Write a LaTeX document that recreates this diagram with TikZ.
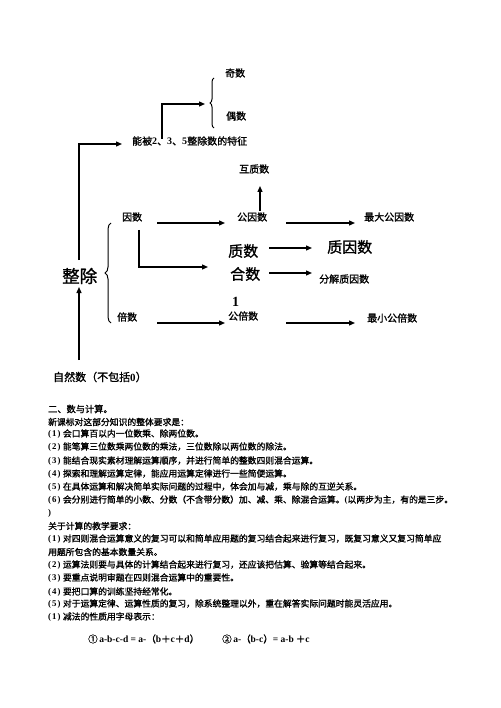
\documentclass[tikz,border=0pt]{standalone}
\usepackage{fontspec}
\setmainfont{Noto Sans CJK SC}[RawFeature={embolden=1.2}]
\newfontfamily\latfont{Liberation Serif}
\newcommand\latb[1]{{\latfont\bfseries #1}}
\newcommand\itm[1]{\latb{(}\kern1pt\latb{#1}\kern1pt\latb{)}\kern2.5pt}
\usetikzlibrary{arrows.meta,decorations.pathreplacing}
\begin{document}
\begin{tikzpicture}[x=1pt,y=-1pt,
  lbl/.style={anchor=west,inner sep=0pt,font=\fontsize{10}{12}\selectfont},
  big/.style={anchor=west,inner sep=0pt,font=\fontsize{15}{18}\selectfont},
  body/.style={anchor=west,inner sep=0pt,font=\fontsize{8.8}{10}\selectfont},
  arr/.style={line width=1.3pt,-{Triangle[length=6pt,width=5pt]}},
  br/.style={line width=1pt,decorate,decoration={brace,amplitude=#1}},
]
\useasboundingbox[fill=white] (0,0) rectangle (500,708);

% ---- diagram labels ----
\node[lbl] (jishu) at (225,73) {奇数};
\node[lbl] (oushu) at (226,116) {偶数};
\node[lbl] (tezheng) at (132,141) {能被\latb{2}、\latb{3}、\latb{5}整除数的特征};
\node[lbl] (huzhi) at (239,169) {互质数};
\node[lbl] (yinshu) at (122,217) {因数};
\node[lbl] (gongyin) at (237,217) {公因数};
\node[lbl] (zuida) at (364,217) {最大公因数};
\node[big] (zhishu) at (228,251) {质数};
\node[big] (zhiyin) at (327,247) {质因数};
\node[big] (heshu) at (230,274) {合数};
\node[lbl] (fenjie) at (319,279) {分解质因数};
\node[anchor=west,inner sep=0pt,font=\fontsize{14}{16}\selectfont] (one) at (232,302) {\latb{1}};
\node[lbl] (gongbei) at (228,316) {公倍数};
\node[lbl] (beishu) at (117,317) {倍数};
\node[lbl] (zuixiao) at (367,318) {最小公倍数};
\node[anchor=west,inner sep=0pt,font=\fontsize{17.5}{20}\selectfont] (zhengchu) at (62,276) {整除};
\node[anchor=west,inner sep=0pt,font=\fontsize{11}{13}\selectfont] (ziran) at (53,377) {自然数（不包括\latb{0}）};

% ---- connector points ----
\coordinate (a1) at (79,260); \coordinate (a1m) at (79,144); \coordinate (a1e) at (122,144);
\coordinate (a2) at (162,139); \coordinate (a2m) at (162,104); \coordinate (a2e) at (205,104);
\coordinate (a3) at (157,223); \coordinate (a3e) at (225,223);
\coordinate (a4) at (260,211); \coordinate (a4e) at (260,186);
\coordinate (a5) at (286,223); \coordinate (a5e) at (355,223);
\coordinate (a6) at (269,248); \coordinate (a6e) at (312,248);
\coordinate (a7) at (139,230); \coordinate (a7m) at (139,267); \coordinate (a7e) at (208,267);
\coordinate (a8) at (269,273); \coordinate (a8e) at (312,273);
\coordinate (a9) at (157,323); \coordinate (a9e) at (225,323);
\coordinate (a10) at (286,323); \coordinate (a10e) at (355,323);
\coordinate (a11) at (79,360); \coordinate (a11e) at (79,287);
\coordinate (b1s) at (214,128); \coordinate (b1e) at (214,78);
\coordinate (b2s) at (111,323); \coordinate (b2e) at (111,223);

\draw[arr] (a1) -- (a1m) -- (a1e);
\draw[arr] (a2) -- (a2m) -- (a2e);
\draw[arr] (a3) -- (a3e);
\draw[arr] (a4) -- (a4e);
\draw[arr] (a5) -- (a5e);
\draw[arr] (a6) -- (a6e);
\draw[arr] (a7) -- (a7m) -- (a7e);
\draw[arr] (a8) -- (a8e);
\draw[arr] (a9) -- (a9e);
\draw[arr] (a10) -- (a10e);
\draw[arr] (a11) -- (a11e);
\draw[br=4pt] (b1s) -- (b1e);
\draw[br=6pt] (b2s) -- (b2e);

% ---- text block ----
\node[body,font=\fontsize{9.2}{11}\selectfont] (t0) at (48,409) {二、数与计算。};
\node[body] (t1) at (48,422) {新课标对这部分知识的整体要求是：};
\node[body] (t2) at (48,434) {\itm{1}会口算百以内一位数乘、除两位数。};
\node[body] (t3) at (48,447) {\itm{2}能笔算三位数乘两位数的乘法，三位数除以两位数的除法。};
\node[body] (t4) at (48,461) {\itm{3}能结合现实素材理解运算顺序，并进行简单的整数四则混合运算。};
\node[body] (t5) at (48,474) {\itm{4}探索和理解运算定律，能应用运算定律进行一些简便运算。};
\node[body] (t6) at (48,487) {\itm{5}在具体运算和解决简单实际问题的过程中，体会加与减，乘与除的互逆关系。};
\node[body] (t7) at (48,500) {\itm{6}会分别进行简单的小数、分数（不含带分数）加、减、乘、除混合运算。\latb{(}以两步为主，有的是三步。};
\node[body] (t8) at (48,513) {\latb{)}};
\node[body] (t9) at (48,526) {关于计算的教学要求：};
\node[body] (t10) at (48,539) {\itm{1}对四则混合运算意义的复习可以和简单应用题的复习结合起来进行复习，既复习意义又复习简单应};
\node[body] (t11) at (48,552) {用题所包含的基本数量关系。};
\node[body] (t12) at (48,565) {\itm{2}运算法则要与具体的计算结合起来进行复习，还应该把估算、验算等结合起来。};
\node[body] (t13) at (48,578) {\itm{3}要重点说明审题在四则混合运算中的重要性。};
\node[body] (t14) at (48,592) {\itm{4}要把口算的训练坚持经常化。};
\node[body] (t15) at (48,604) {\itm{5}对于运算定律、运算性质的复习，除系统整理以外，重在解答实际问题时能灵活应用。};
\node[body] (t16) at (48,617) {\itm{1}减法的性质用字母表示：};
\node[body,font=\fontsize{9.5}{11}\selectfont] (f1) at (88,639) {①\,\latb{a-b-c-d = a-}（\latb{b}＋\latb{c}＋\latb{d}）};
\node[body,font=\fontsize{9.5}{11}\selectfont] (f2) at (222,639) {②\,\latb{a-}（\latb{b-c}）\latb{= a-b} ＋\latb{c}};
\end{tikzpicture}
\end{document}
